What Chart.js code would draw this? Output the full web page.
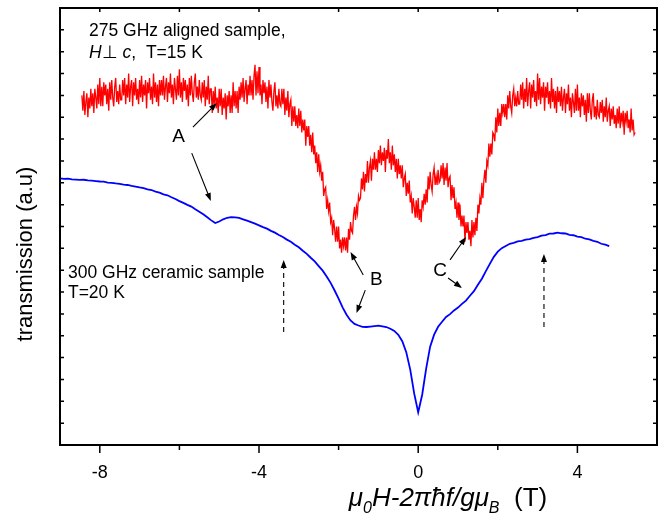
<!DOCTYPE html>
<html>
<head>
<meta charset="utf-8">
<script src="https://cdn.jsdelivr.net/npm/chart.js@4.4.1/dist/chart.umd.min.js"></script>
<style>
  html, body { margin: 0; padding: 0; background: #fff; }
  #wrap { width: 658px; height: 520px; }
</style>
</head>
<body>
<div id="wrap"><canvas id="chart" width="658" height="520"></canvas></div>
<script>
// ---------------- data ----------------
// x axis: field offset (T); y axis: transmission, arbitrary units (0..20)
const xTicks = [-8, -4, 0, 4];
const xMinorTicks = [-6, -2, 2];

// red: 275 GHz aligned sample, sampled every 0.025 T from -8.45 T (one row = 1 T)
const redStart = -8.45;
const redStep = 0.025;
const redValues = [
  16.0, 15.3, 16.2, 15.1, 15.7, 16.1, 15.0, 15.9, 15.4, 16.3, 15.5, 16.1, 15.2, 16.3, 15.9, 15.4, 16.5, 15.6, 16.8, 15.5,
  16.4, 15.5, 16.6, 16.0, 16.5, 15.6, 16.3, 15.3, 16.6, 15.8, 16.7, 15.9, 15.5, 16.4, 16.8, 15.7, 16.2, 15.6, 16.5, 15.8,
  15.8, 16.7, 16.0, 16.8, 15.6, 16.5, 15.9, 17.0, 15.7, 16.4, 16.7, 15.5, 16.6, 16.0, 16.8, 15.8, 16.3, 15.6, 16.7, 15.9,
  16.9, 15.7, 16.5, 16.0, 16.7, 15.4, 16.6, 16.1, 16.8, 15.8, 16.4, 15.6, 17.0, 15.9, 16.6, 15.7, 16.5, 15.5, 16.7, 16.0,
  16.7, 16.0, 16.9, 15.8, 16.4, 16.8, 15.7, 16.6, 16.1, 17.0, 15.9, 16.5, 15.6, 16.8, 16.3, 15.8, 16.9, 16.0, 17.2, 15.9,
  16.6, 15.7, 16.8, 16.2, 16.7, 15.8, 16.5, 15.5, 16.8, 16.0, 16.9, 16.1, 15.7, 16.6, 17.0, 15.9, 16.4, 15.8, 16.7, 16.0,
  15.8, 16.6, 15.9, 16.7, 15.5, 16.4, 15.8, 16.9, 15.6, 16.3, 16.3, 15.2, 16.2, 15.6, 16.4, 15.4, 15.9, 15.2, 16.3, 15.5,
  16.3, 15.1, 15.9, 15.4, 16.1, 14.9, 16.0, 15.5, 16.2, 15.2, 16.0, 15.2, 16.6, 15.5, 16.2, 15.4, 16.2, 15.2, 16.4, 15.8,
  16.6, 15.9, 16.8, 15.7, 16.3, 16.7, 15.6, 16.5, 16.0, 16.9, 16.0, 16.7, 15.8, 16.9, 17.4, 16.0, 17.1, 16.1, 17.3, 16.0,
  16.5, 15.6, 16.7, 16.1, 16.6, 15.7, 16.4, 15.4, 16.7, 15.9, 16.5, 15.7, 15.3, 16.2, 16.6, 15.5, 16.0, 15.4, 16.3, 15.6,
  15.5, 16.3, 15.6, 16.3, 15.1, 15.9, 15.3, 16.2, 15.0, 15.6, 15.8, 14.6, 15.5, 14.8, 15.5, 14.6, 15.1, 14.5, 15.4, 14.6,
  15.3, 14.3, 14.9, 14.4, 14.9, 13.7, 14.6, 14.1, 14.6, 13.7, 14.2, 13.4, 14.3, 13.3, 13.7, 12.9, 13.4, 12.5, 13.3, 12.5,
  12.8, 12.1, 12.5, 11.4, 11.7, 11.8, 10.8, 11.2, 10.7, 11.1, 10.2, 10.4, 9.6, 10.3, 9.9, 9.3, 10.0, 9.3, 10.0, 9.0,
  9.4, 8.8, 9.5, 9.1, 9.5, 8.9, 9.5, 8.8, 9.9, 9.4, 10.2, 9.8, 9.7, 10.5, 10.9, 10.3, 10.9, 10.6, 11.4, 11.2,
  11.3, 12.2, 11.7, 12.5, 11.6, 12.4, 12.0, 13.0, 12.0, 12.7, 13.0, 12.1, 13.1, 12.6, 13.4, 12.6, 13.1, 12.5, 13.5, 12.9,
  13.7, 12.8, 13.4, 13.0, 13.6, 12.5, 13.5, 13.1, 14.0, 12.9, 13.4, 12.6, 13.7, 12.8, 13.3, 12.5, 13.1, 12.2, 13.1, 12.4,
  12.8, 12.2, 12.8, 11.8, 12.2, 12.4, 11.4, 12.0, 11.5, 12.1, 11.1, 11.4, 10.6, 11.3, 10.9, 10.4, 11.2, 10.4, 11.3, 10.3,
  10.8, 10.2, 11.2, 10.9, 11.5, 11.0, 11.7, 11.1, 12.3, 11.7, 12.5, 11.9, 11.6, 12.4, 12.7, 11.9, 12.3, 11.9, 12.6, 12.0,
  12.1, 12.8, 12.2, 12.9, 11.9, 12.7, 12.1, 12.9, 11.8, 12.2, 12.3, 11.2, 11.9, 11.3, 11.8, 10.8, 11.1, 10.4, 11.1, 10.3,
  11.0, 10.0, 10.5, 10.0, 10.5, 9.3, 10.2, 9.7, 10.2, 9.4, 9.8, 9.1, 10.3, 9.5, 10.2, 9.6, 10.4, 9.8, 11.0, 10.6,
  11.3, 11.0, 12.0, 11.3, 12.1, 12.6, 12.0, 13.0, 12.8, 13.8, 13.2, 13.8, 13.3, 14.3, 14.2, 13.9, 15.0, 14.3, 15.4, 14.6,
  15.2, 14.6, 15.6, 15.2, 15.6, 15.0, 15.6, 14.9, 16.0, 15.4, 16.2, 15.5, 15.2, 16.0, 16.3, 15.5, 15.9, 15.5, 16.2, 15.6,
  15.6, 16.5, 15.8, 16.6, 15.4, 16.3, 15.7, 16.8, 15.5, 16.2, 16.6, 15.4, 16.5, 15.9, 16.7, 15.7, 16.2, 15.5, 17.0, 15.8,
  16.8, 15.6, 16.4, 15.9, 16.6, 15.3, 16.4, 15.9, 16.6, 15.6, 16.2, 15.4, 16.8, 15.7, 16.3, 15.4, 16.2, 15.2, 16.4, 15.7,
  16.2, 15.5, 16.4, 15.3, 15.9, 16.3, 15.2, 16.1, 15.6, 16.5, 15.3, 15.9, 15.0, 16.1, 15.7, 15.2, 16.3, 15.3, 16.5, 15.3,
  15.9, 15.0, 16.1, 15.5, 16.0, 15.1, 15.8, 14.8, 16.1, 15.2, 16.1, 15.3, 14.9, 15.8, 16.1, 15.0, 15.5, 14.9, 15.8, 15.1,
  15.0, 15.7, 15.2, 15.8, 14.8, 15.5, 15.0, 15.9, 14.8, 15.3, 15.5, 14.6, 15.4, 14.9, 15.5, 14.7, 15.1, 14.5, 15.4, 14.7,
  15.5, 14.5, 15.2, 14.8, 15.3, 14.2, 15.2, 14.8, 15.3, 14.5, 14.9, 14.3, 15.4, 14.4, 14.9, 14.2, 14.3
];

// blue: 300 GHz ceramic sample, sampled every 0.1 T from -9.0 T
const blueStart = -9.0;
const blueStep = 0.1;
const blueValues = [
  12.20, 12.18, 12.19, 12.16, 12.15, 12.13, 12.14, 12.11, 12.10, 12.08,
  12.06, 12.05, 12.01, 12.00, 11.97, 11.95, 11.92, 11.90, 11.86, 11.83,
  11.79, 11.76, 11.70, 11.67, 11.60, 11.55, 11.47, 11.43, 11.34, 11.26,
  11.16, 11.08, 10.99, 10.91, 10.79, 10.68, 10.56, 10.42, 10.28, 10.16,
  10.23, 10.33, 10.40, 10.43, 10.42, 10.39, 10.33, 10.27, 10.20, 10.13,
  10.05, 9.97, 9.90, 9.80, 9.72, 9.61, 9.52, 9.40, 9.30, 9.17,
  9.05, 8.89, 8.75, 8.57, 8.40, 8.19, 7.98, 7.71, 7.42, 7.07,
  6.70, 6.30, 5.96, 5.70, 5.54, 5.47, 5.41, 5.40, 5.42, 5.44,
  5.46, 5.43, 5.40, 5.32, 5.22, 5.04, 4.75, 4.25, 3.45, 2.35,
  1.50, 2.30, 3.50, 4.50, 5.05, 5.41, 5.64, 5.86, 5.99, 6.16,
  6.29, 6.46, 6.61, 6.83, 7.04, 7.33, 7.61, 7.96, 8.29, 8.61,
  8.85, 9.01, 9.11, 9.21, 9.25, 9.32, 9.34, 9.40, 9.42, 9.48,
  9.51, 9.58, 9.61, 9.67, 9.68, 9.72, 9.69, 9.68, 9.62, 9.60,
  9.54, 9.51, 9.44, 9.41, 9.34, 9.30, 9.21, 9.17, 9.10
];

const redPoints = redValues.map((v, i) => ({ x: redStart + i * redStep, y: v }));
const bluePoints = blueValues.map((v, i) => ({ x: blueStart + i * blueStep, y: v }));

// ---------------- annotations (data coordinates) ----------------
const FONT = '"Liberation Sans", Arial, Helvetica, sans-serif';
const letters = [
  { t: "A", x: -6.02, y: 14.1 },
  { t: "B", x: -1.05, y: 7.55 },
  { t: "C", x: 0.55, y: 7.96 }
];
const arrows = [
  [-5.66, 14.55, -5.06, 15.65],
  [-5.69, 13.36, -5.21, 11.17],
  [-1.38, 7.78, -1.70, 8.83],
  [-1.33, 7.09, -1.55, 6.04],
  [0.80, 8.47, 1.20, 9.52],
  [0.75, 7.64, 1.10, 7.19]
];
const dashedArrows = [
  [-3.38, 5.17, -3.38, 8.47],
  [3.16, 5.40, 3.16, 8.74]
];

function arrow(ctx, x1, y1, x2, y2, dashed) {
  const ang = Math.atan2(y2 - y1, x2 - x1);
  const len = 8, half = 3;
  ctx.save();
  ctx.strokeStyle = "#000"; ctx.fillStyle = "#000";
  ctx.lineWidth = 1.1;
  if (dashed) ctx.setLineDash([5, 4]);
  ctx.beginPath();
  ctx.moveTo(x1, y1);
  ctx.lineTo(x2 - Math.cos(ang) * len * 0.8, y2 - Math.sin(ang) * len * 0.8);
  ctx.stroke();
  ctx.setLineDash([]);
  ctx.beginPath();
  ctx.moveTo(x2, y2);
  ctx.lineTo(x2 - Math.cos(ang) * len - Math.sin(ang) * half, y2 - Math.sin(ang) * len + Math.cos(ang) * half);
  ctx.lineTo(x2 - Math.cos(ang) * len + Math.sin(ang) * half, y2 - Math.sin(ang) * len - Math.cos(ang) * half);
  ctx.closePath();
  ctx.fill();
  ctx.restore();
}

// draws a run of [text, font, dy] pieces left to right, returns end x
function runs(ctx, x, y, parts) {
  parts.forEach(p => {
    ctx.font = p[1];
    ctx.fillText(p[0], x, y + (p[2] || 0));
    x += ctx.measureText(p[0]).width;
  });
  return x;
}

const overlay = {
  id: "overlay",
  afterDraw(chart) {
    const { ctx, chartArea: a, scales: { x, y } } = chart;
    const px = v => x.getPixelForValue(v), py = v => y.getPixelForValue(v);
    ctx.save();

    // frame + ticks
    ctx.strokeStyle = "#000";
    ctx.lineWidth = 2;
    ctx.strokeRect(a.left, a.top, a.right - a.left, a.bottom - a.top);
    ctx.lineWidth = 1.5;
    ctx.beginPath();
    for (let v = 1; v < 20; v++) {
      ctx.moveTo(a.left, py(v)); ctx.lineTo(a.left + 4, py(v));
      ctx.moveTo(a.right, py(v)); ctx.lineTo(a.right - 4, py(v));
    }
    xTicks.forEach(v => {
      ctx.moveTo(px(v), a.bottom); ctx.lineTo(px(v), a.bottom + 8);
      ctx.moveTo(px(v), a.top); ctx.lineTo(px(v), a.top + 4);
    });
    xMinorTicks.forEach(v => {
      ctx.moveTo(px(v), a.bottom); ctx.lineTo(px(v), a.bottom + 5);
      ctx.moveTo(px(v), a.top); ctx.lineTo(px(v), a.top + 4);
    });
    ctx.stroke();

    // arrows
    arrows.forEach(r => arrow(ctx, px(r[0]), py(r[1]), px(r[2]), py(r[3]), false));
    dashedArrows.forEach(r => arrow(ctx, px(r[0]), py(r[1]), px(r[2]), py(r[3]), true));

    ctx.fillStyle = "#000";
    ctx.textBaseline = "middle";
    ctx.textAlign = "center";
    ctx.font = "19px " + FONT;
    letters.forEach(l => ctx.fillText(l.t, px(l.x), py(l.y)));

    // sample labels
    ctx.textAlign = "left";
    const f = "17.5px " + FONT, fi = "italic 17.5px " + FONT;
    ctx.font = f;
    ctx.fillText("275 GHz aligned sample,", px(-8.27), py(18.95));
    runs(ctx, px(-8.27), py(17.94), [["H", fi], ["\u22a5 ", f], ["c", fi], [",  T=15 K", f]]);
    ctx.font = f;
    ctx.fillText("300 GHz ceramic sample", px(-8.8), py(7.87));
    ctx.fillText("T=20 K", px(-8.8), py(6.96));

    // y title
    ctx.save();
    ctx.translate(32, 254);
    ctx.rotate(-Math.PI / 2);
    ctx.textAlign = "center";
    ctx.textBaseline = "alphabetic";
    ctx.font = "22px " + FONT;
    ctx.fillText("transmission (a.u)", 0, 0);
    ctx.restore();

    // x title
    const t = "italic 26px " + FONT, ts = "italic 16px " + FONT, tu = "26px " + FONT;
    ctx.textBaseline = "alphabetic";
    const parts = [["\u03bc", t], ["0", ts, 7], ["H-2\u03c0\u0127f/g\u03bc", t], ["B", ts, 7], ["  (T)", tu]];
    let w = 0;
    parts.forEach(p => { ctx.font = p[1]; w += ctx.measureText(p[0]).width; });
    runs(ctx, 448 - w / 2, 506, parts);
    ctx.restore();
  }
};

new Chart(document.getElementById("chart"), {
  type: "line",
  data: {
    datasets: [
      { data: redPoints, borderColor: "#ff0000", borderWidth: 1.3, pointRadius: 0, tension: 0 },
      { data: bluePoints, borderColor: "#0000ff", borderWidth: 1.8, pointRadius: 0, tension: 0 }
    ]
  },
  options: {
    responsive: false,
    animation: false,
    layout: { padding: { top: 8, right: 1, left: 0, bottom: 0 } },
    plugins: { legend: { display: false }, tooltip: { enabled: false } },
    scales: {
      x: {
        type: "linear", min: -9, max: 6,
        grid: { display: false, drawTicks: false },
        border: { display: false },
        afterBuildTicks: s => { s.ticks = xTicks.map(v => ({ value: v })); },
        afterFit: s => { s.height = 75; },
        ticks: { padding: 17, color: "#000", font: { size: 18, family: FONT }, maxRotation: 0 }
      },
      y: {
        min: 0, max: 20,
        grid: { display: false, drawTicks: false },
        border: { display: false },
        ticks: { display: false },
        afterFit: s => { s.width = 60; }
      }
    }
  },
  plugins: [overlay]
});
</script>
</body>
</html>
